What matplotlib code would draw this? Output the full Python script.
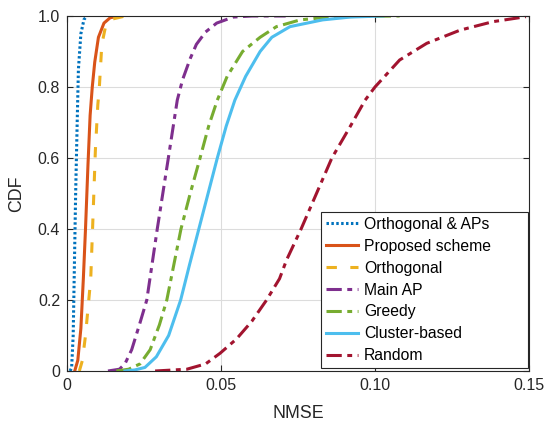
import matplotlib
matplotlib.use("Agg")
import matplotlib.pyplot as plt

plt.rcParams['font.family'] = ['Liberation Sans', 'DejaVu Sans']

# CDF curves: (NMSE, CDF) pairs
orth_aps_x = [0.0010, 0.0015, 0.0020, 0.0023, 0.0028, 0.0033, 0.0037, 0.0045, 0.0055, 0.0065]
orth_aps_y = [0.0, 0.01, 0.10, 0.25, 0.50, 0.70, 0.85, 0.95, 0.99, 1.0]

proposed_x = [0.0025, 0.0035, 0.0045, 0.0053, 0.0060, 0.0068, 0.0075, 0.0082, 0.0090, 0.0102, 0.0120, 0.0140, 0.0170]
proposed_y = [0.0, 0.03, 0.12, 0.26, 0.40, 0.58, 0.72, 0.80, 0.87, 0.94, 0.98, 0.995, 1.0]

orth_x = [0.0040, 0.0050, 0.0060, 0.0077, 0.0085, 0.0092, 0.0100, 0.0105, 0.0113, 0.0125, 0.0140, 0.0190]
orth_y = [0.0, 0.03, 0.10, 0.26, 0.45, 0.62, 0.75, 0.80, 0.92, 0.97, 0.99, 1.0]

main_ap_x = [0.0133, 0.0170, 0.0188, 0.0210, 0.0235, 0.0259, 0.0276, 0.0293, 0.0311, 0.0329, 0.0345,
             0.0358, 0.0375, 0.0400, 0.0420, 0.0450, 0.0486, 0.0540, 0.0600, 0.0710]
main_ap_y = [0.0, 0.005, 0.02, 0.06, 0.13, 0.20, 0.30, 0.40, 0.50, 0.60, 0.69,
             0.763, 0.82, 0.88, 0.92, 0.955, 0.98, 0.997, 1.0, 1.0]

greedy_x = [0.0160, 0.0200, 0.0237, 0.0270, 0.0300, 0.0324, 0.0347, 0.0370, 0.0400, 0.0432, 0.0460,
            0.0488, 0.0520, 0.0570, 0.0627, 0.0680, 0.0757, 0.0850, 0.0950, 0.1080]
greedy_y = [0.0, 0.005, 0.02, 0.06, 0.13, 0.20, 0.30, 0.40, 0.50, 0.60, 0.69,
            0.763, 0.83, 0.90, 0.94, 0.97, 0.989, 0.997, 0.999, 1.0]

cluster_x = [0.0188, 0.0220, 0.0253, 0.0290, 0.0330, 0.0369, 0.0398, 0.0428, 0.0458, 0.0488, 0.0517,
             0.0545, 0.0580, 0.0627, 0.0665, 0.0724, 0.0830, 0.0920, 0.1026]
cluster_y = [0.0, 0.003, 0.01, 0.04, 0.10, 0.20, 0.30, 0.40, 0.50, 0.60, 0.69,
             0.763, 0.83, 0.90, 0.94, 0.97, 0.989, 0.997, 1.0]

random_x = [0.0286, 0.0389, 0.0450, 0.0497, 0.0550, 0.0600, 0.0648, 0.0690, 0.0713, 0.0760, 0.0810,
            0.0860, 0.0919, 0.0968, 0.1000, 0.1080, 0.1168, 0.1276, 0.1383, 0.1490]
random_y = [0.0, 0.005, 0.02, 0.05, 0.09, 0.14, 0.20, 0.26, 0.313, 0.40, 0.50,
            0.60, 0.688, 0.763, 0.80, 0.876, 0.923, 0.96, 0.984, 0.998]

x_ticks = [0, 0.05, 0.1, 0.15]
x_tick_labels = ['0', '0.05', '0.10', '0.15']
y_ticks = [0, 0.2, 0.4, 0.6, 0.8, 1.0]
y_tick_labels = ['0', '0.2', '0.4', '0.6', '0.8', '1.0']

fig = plt.figure(figsize=(5.48, 4.24), dpi=100)
ax = fig.add_axes([0.1223, 0.125, 0.843, 0.8373])

lw = 2.2
dashdot = (0, (5, 1.8, 1.6, 1.8))
ax.plot(orth_aps_x, orth_aps_y, color=(0, 0.447, 0.741), lw=lw, ls=(0, (0.8, 0.8)), label='Orthogonal & APs')
ax.plot(proposed_x, proposed_y, color=(0.85, 0.325, 0.098), lw=lw, ls='-', label='Proposed scheme')
ax.plot(orth_x, orth_y, color=(0.929, 0.694, 0.125), lw=lw, ls=(0, (3.4, 4.4)), label='Orthogonal')
ax.plot(main_ap_x, main_ap_y, color=(0.494, 0.184, 0.556), lw=lw, ls=dashdot, label='Main AP')
ax.plot(greedy_x, greedy_y, color=(0.466, 0.674, 0.188), lw=lw, ls=dashdot, label='Greedy')
ax.plot(cluster_x, cluster_y, color=(0.301, 0.745, 0.933), lw=lw, ls='-', label='Cluster-based')
ax.plot(random_x, random_y, color=(0.635, 0.078, 0.184), lw=lw, ls=dashdot, label='Random')

ax.set_xlim(0, 0.15)
ax.set_ylim(0, 1)
ax.set_xticks(x_ticks)
ax.set_xticklabels(x_tick_labels)
ax.set_yticks(y_ticks)
ax.set_yticklabels(y_tick_labels)
ax.grid(True, color='#dcdcdc', lw=0.8)
ax.set_axisbelow(True)
ax.tick_params(direction='in', top=True, right=True, labelsize=11.5, length=4, pad=5,
               color='#262626', labelcolor='#262626')
for s in ax.spines.values():
    s.set_color('#262626')
    s.set_linewidth(0.8)

ax.set_xlabel('NMSE', fontsize=12.8, color='#262626', labelpad=9)
ax.set_ylabel('CDF', fontsize=12.8, color='#262626', labelpad=9)

# legend box stretched to the width used in the original figure
leg = ax.legend(loc='lower left', bbox_to_anchor=(0.5504, 0.0085, 0.4474, 0.44), mode='expand',
                fontsize=11.3, fancybox=False, framealpha=1,
                edgecolor='#262626', handlelength=2.05, borderaxespad=0,
                labelspacing=0.44, handletextpad=0.36, borderpad=0.3)
leg.get_frame().set_linewidth(0.8)

fig.savefig('out.png', dpi=100)
